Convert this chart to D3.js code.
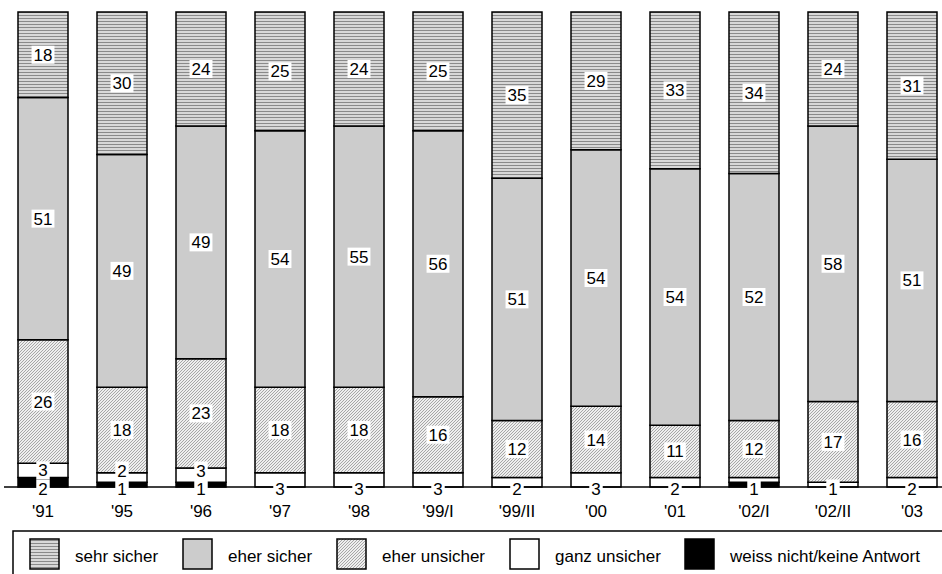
<!DOCTYPE html>
<html><head><meta charset="utf-8">
<script src="https://cdn.jsdelivr.net/npm/d3@7"></script>
<style>body{margin:0;background:#fff}svg{display:block;font-family:Arial,"Liberation Sans",sans-serif}</style>
</head><body><svg id="c" width="942" height="574"></svg>
<script>
const categories = ["'91","'95","'96","'97","'98","'99/I","'99/II","'00","'01","'02/I","'02/II","'03"];
const seriesNames = ["weiss nicht/keine Antwort","ganz unsicher","eher unsicher","eher sicher","sehr sicher"];
const weissNicht   = [2,1,1,0,0,0,0,0,0,1,0,0];
const ganzUnsicher = [3,2,3,3,3,3,2,3,2,1,1,2];
const eherUnsicher = [26,18,23,18,18,16,12,14,11,12,17,16];
const eherSicher   = [51,49,49,54,55,56,51,54,54,52,58,51];
const sehrSicher   = [18,30,24,25,24,25,35,29,33,34,24,31];
const legendOrder = ["sehr sicher","eher sicher","eher unsicher","ganz unsicher","weiss nicht/keine Antwort"];

const svg = d3.select("#c");
const defs = svg.append("defs");
// horizontal stripes
const p1 = defs.append("pattern").attr("id","pSehr").attr("patternUnits","userSpaceOnUse").attr("width",4).attr("height",3);
p1.append("rect").attr("width",4).attr("height",3).attr("fill","#d8d8d8");
p1.append("rect").attr("y",0).attr("width",4).attr("height",1).attr("fill","#8a8a8a");
// fine diagonal hatch (pixel diagonals)
const p2 = defs.append("pattern").attr("id","pEU").attr("patternUnits","userSpaceOnUse").attr("width",3).attr("height",3);
p2.append("rect").attr("width",3).attr("height",3).attr("fill","#eeeeee");
[[0,2],[1,1],[2,0]].forEach(([px,py])=>p2.append("rect").attr("x",px).attr("y",py).attr("width",1).attr("height",1).attr("fill","#a6a6a6"));

const fills = {
  "sehr sicher":"url(#pSehr)",
  "eher sicher":"#cccccc",
  "eher unsicher":"url(#pEU)",
  "ganz unsicher":"#ffffff",
  "weiss nicht/keine Antwort":"#000000"
};

const rows = categories.map((c,i)=>({cat:c,
  "weiss nicht/keine Antwort":weissNicht[i],
  "ganz unsicher":ganzUnsicher[i],
  "eher unsicher":eherUnsicher[i],
  "eher sicher":eherSicher[i],
  "sehr sicher":sehrSicher[i]}));

const stack = d3.stack().keys(seriesNames)(rows);

const x = d3.scaleBand().domain(categories).range([3.5,951.5]).paddingInner(29/79).paddingOuter(29/158);
const y = d3.scaleLinear().domain([0,100]).range([487,12]);

const g = svg.append("g");
stack.forEach(layer=>{
  g.selectAll(null).data(layer.filter(d=>d[1]-d[0]>0)).enter().append("rect")
    .attr("x",d=>x(d.data.cat)).attr("width",x.bandwidth())
    .attr("y",d=>y(d[1])).attr("height",d=>y(d[0])-y(d[1]))
    .attr("fill",fills[layer.key]).attr("stroke","#000").attr("stroke-width",1.5);
});

// axis line
svg.append("line").attr("x1",4).attr("x2",942).attr("y1",y(0)).attr("y2",y(0)).attr("stroke","#000").attr("stroke-width",1.5);

// labels
const lg = svg.append("g").attr("font-size",17).attr("text-anchor","middle");
const boxH = 18;
categories.forEach((c,i)=>{
  let prevTop = null; let first = true;
  stack.forEach(layer=>{
    const d = layer[i]; const v = d[1]-d[0];
    if (v<=0) return;
    let cy = (y(d[0])+y(d[1]))/2;
    if (first && v<4) cy = y(0)+1.5;
    if (!first && v<=1) { first=false; return; }
    if (prevTop!==null && cy+boxH/2>prevTop) cy = prevTop-boxH/2;
    first = false;
    const txt = String(v);
    const bg = lg.append("rect").attr("fill","#fff");
    const t = lg.append("text").attr("x",x(c)+x.bandwidth()/2).attr("y",cy).attr("dy","0.36em").text(txt);
    const w = t.node().getComputedTextLength()+4;
    bg.attr("x",x(c)+x.bandwidth()/2-w/2).attr("y",cy-boxH/2).attr("width",w).attr("height",boxH);
    prevTop = cy-boxH/2;
  });
});

// x-axis labels
svg.append("g").selectAll("text").data(categories).enter().append("text")
  .attr("x",d=>x(d)+x.bandwidth()/2).attr("y",511).attr("dy","0.36em")
  .attr("text-anchor","middle").attr("font-size",17).text(d=>d);

// legend
const leg = svg.append("g");
leg.append("rect").attr("x",13).attr("y",531).attr("width",940).attr("height",60).attr("fill","none").attr("stroke","#000").attr("stroke-width",1.5);
const swX = [30,183,337,510,685];
legendOrder.forEach((k,i)=>{
  leg.append("rect").attr("x",swX[i]).attr("y",539).attr("width",29).attr("height",30)
    .attr("fill",fills[k]).attr("stroke","#000").attr("stroke-width",1.5);
  leg.append("text").attr("x",swX[i]+45).attr("y",562).attr("font-size",17).text(k);
});
</script></body></html>
